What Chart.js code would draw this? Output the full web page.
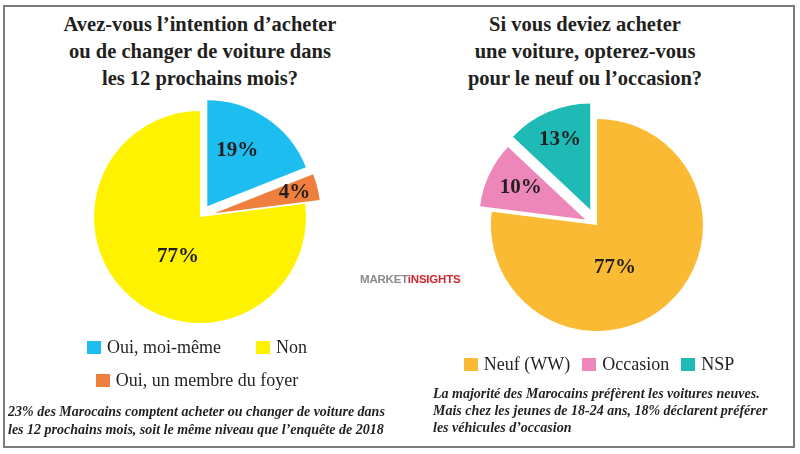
<!DOCTYPE html>
<html>
<head>
<meta charset="utf-8">
<script src="https://cdn.jsdelivr.net/npm/chart.js@4"></script>
<style>
  body {
    margin: 0;
    width: 800px;
    height: 454px;
    position: relative;
    overflow: hidden;
    background: #fff;
    font-family: 'Liberation Serif', 'Times New Roman', serif;
    color: #231f20;
  }
  .frame {
    position: absolute;
    left: 3px;
    top: 5px;
    width: 792px;
    height: 443px;
    box-sizing: border-box;
    border: 2px solid #7b7b7b;
  }
  .title {
    position: absolute;
    top: 11px;
    width: 400px;
    text-align: center;
    font-weight: bold;
    font-size: 20.5px;
    line-height: 27px;
  }
  .pie {
    position: absolute;
    width: 400px;
    height: 250px;
  }
  .legend-row {
    position: absolute;
    width: 400px;
    height: 20px;
    display: flex;
    justify-content: center;
    align-items: center;
    font-size: 18px;
  }
  .legend-item {
    display: flex;
    align-items: center;
  }
  .legend-item .box {
    width: 14px;
    height: 13px;
    margin-right: 6px;
  }
  .caption {
    position: absolute;
    font-weight: bold;
    font-style: italic;
    font-size: 14px;
    line-height: 17.5px;
  }
  .logo {
    position: absolute;
    left: 360px;
    top: 273px;
    font-family: 'Liberation Sans', Arial, sans-serif;
    font-weight: bold;
    font-size: 11.5px;
    letter-spacing: -0.2px;
  }
</style>
</head>
<body>
<div class="frame"></div>

<div class="title" style="left:0;">Avez-vous l’intention d’acheter<br>ou de changer de voiture dans<br>les 12 prochains mois?</div>
<div class="title" style="left:385px;">Si vous deviez acheter<br>une voiture, opterez-vous<br>pour le neuf ou l’occasion?</div>

<div class="pie" style="left:0; top:92px;"><canvas id="leftPie"></canvas></div>
<div class="pie" style="left:397px; top:100px;"><canvas id="rightPie"></canvas></div>

<div class="logo"><span style="color:#8a8a8a;">MARKET</span><span style="color:#d8232e;">iNSIGHTS</span></div>

<div id="leftLegend"></div>
<div id="rightLegend"></div>

<div class="caption" style="left:8px; top:403px;">23% des Marocains comptent acheter ou changer de voiture dans<br>les 12 prochains mois, soit le même niveau que l’enquête de 2018</div>
<div class="caption" style="left:433px; top:385px; line-height:17px;">La majorité des Marocains préfèrent les voitures neuves.<br>Mais chez les jeunes de 18-24 ans, 18% déclarent préférer<br>les véhicules d’occasion</div>

<script>
// Left pie: intention to buy or change car in the next 12 months
const leftLabels = ['Oui, moi-même', 'Oui, un membre du foyer', 'Non'];
const leftValues = [19, 4, 77];
const leftColors = ['#1dbeef', '#ef7f3c', '#fff200'];

// Right pie: new or used
const rightLabels = ['Neuf (WW)', 'Occasion', 'NSP'];
const rightValues = [77, 10, 13];
const rightColors = ['#fbba33', '#ee87b9', '#1fbab5'];

// how far each slice is pulled out (px)
const leftExplode = [13, 15, 0];
const rightExplode = [0, 13, 17];

// label placement: [fraction of radius, angle shift in degrees]
const leftLabelPos = [[0.6, -6], [0.78, 0], [0.43, -12.6]];
const rightLabelPos = [[0.44, 18.7], [0.68, 1.3], [0.72, 0]];

function makePie(canvasId, labels, values, colors, explode, labelPos) {
  const slicePlugin = {
    id: 'slices-' + canvasId,
    // pull the selected slices away from the centre
    afterDatasetsUpdate(chart) {
      chart.getDatasetMeta(0).data.forEach((arc, i) => {
        const d = explode[i] || 0;
        const mid = (arc.startAngle + arc.endAngle) / 2;
        arc.x += Math.cos(mid) * d;
        arc.y += Math.sin(mid) * d;
      });
    },
    // percentage labels inside the slices
    afterDatasetsDraw(chart) {
      const ctx = chart.ctx;
      ctx.save();
      ctx.font = 'bold 21px "Liberation Serif"';
      ctx.fillStyle = '#231f20';
      ctx.textAlign = 'center';
      ctx.textBaseline = 'middle';
      chart.getDatasetMeta(0).data.forEach((arc, i) => {
        const [frac, shift] = labelPos[i];
        const mid = (arc.startAngle + arc.endAngle) / 2 + shift * Math.PI / 180;
        const x = arc.x + Math.cos(mid) * arc.outerRadius * frac;
        const y = arc.y + Math.sin(mid) * arc.outerRadius * frac;
        ctx.fillText(values[i] + '%', x, y);
      });
      ctx.restore();
    }
  };

  return new Chart(document.getElementById(canvasId), {
    type: 'pie',
    data: {
      labels: labels,
      datasets: [{
        data: values,
        backgroundColor: colors,
        borderWidth: 0,
      }],
    },
    options: {
      responsive: true,
      maintainAspectRatio: false,
      animation: false,
      radius: 106,
      events: [],
      layout: { padding: 0 },
      plugins: {
        legend: { display: false },
        tooltip: { enabled: false },
      },
    },
    plugins: [slicePlugin],
  });
}

makePie('leftPie', leftLabels, leftValues, leftColors, leftExplode, leftLabelPos);
makePie('rightPie', rightLabels, rightValues, rightColors, rightExplode, rightLabelPos);

// legends, built from the same arrays
function makeLegend(id, labels, colors, rows, left, tops, gap) {
  const holder = document.getElementById(id);
  rows.forEach((row, r) => {
    const div = document.createElement('div');
    div.className = 'legend-row';
    div.style.left = left + 'px';
    div.style.top = tops[r] + 'px';
    div.style.gap = gap + 'px';
    row.forEach(i => {
      const item = document.createElement('div');
      item.className = 'legend-item';
      const box = document.createElement('span');
      box.className = 'box';
      box.style.background = colors[i];
      item.appendChild(box);
      item.appendChild(document.createTextNode(labels[i]));
      div.appendChild(item);
    });
    holder.appendChild(div);
  });
}

makeLegend('leftLegend', leftLabels, leftColors, [[0, 2], [1]], -3, [337, 370], 35);
makeLegend('rightLegend', rightLabels, rightColors, [[0, 1, 2]], 399, [354], 12);
</script>
</body>
</html>
